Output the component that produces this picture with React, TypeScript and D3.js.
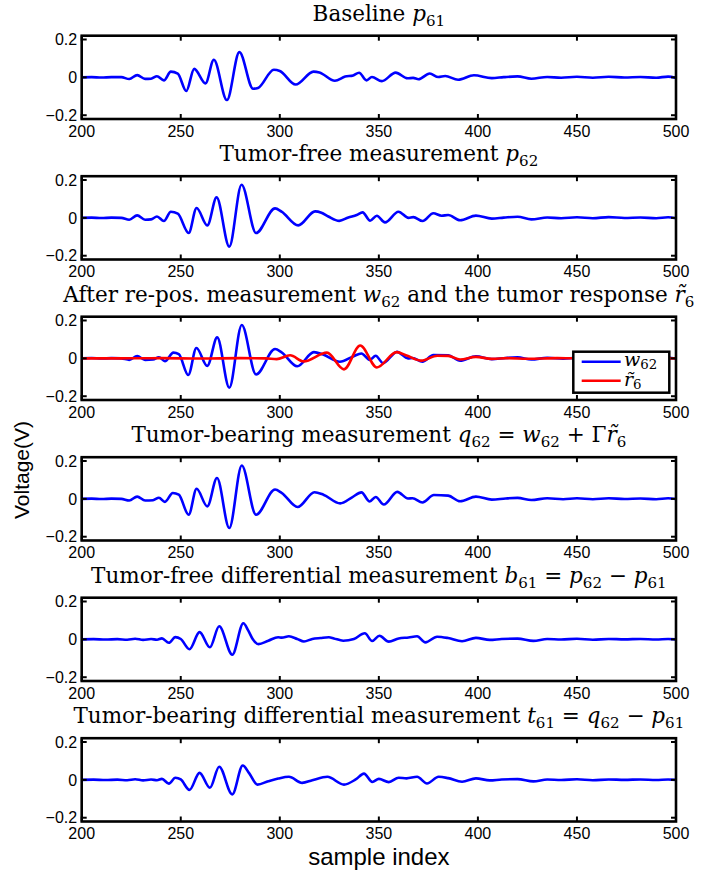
import React from 'react';
import * as d3 from 'd3';

type Pt = [number, number];

// ---------- data ----------
const xTicks = [200, 250, 300, 350, 400, 450, 500];
const yTicks = [-0.2, 0, 0.2];
const yTickLabels = ['\u22120.2', '0', '0.2'];

const baselineP61: Pt[] = [
  [200, 0], [205, 0.001], [210, -0.001], [215, 0.001], [220, 0.001], [224, -0.009], [228, 0.012], [232, -0.008],
  [235, -0.007], [238, 0.006], [241.5, -0.016], [245, 0.03], [248.5, 0.02], [252.8, -0.072], [256.8, 0.045],
  [262.5, -0.032], [266.7, 0.093], [273.3, -0.12], [279.6, 0.133], [286.5, -0.06], [289, -0.056], [297, 0.04],
  [300, 0.034], [308, -0.038], [317, 0.03], [320, 0.026], [327.8, -0.018], [333, 0.004], [337, 0.01], [340, 0.024],
  [343.8, -0.016], [346.5, 0.002], [351.5, -0.02], [358.5, 0.025], [364.5, -0.005], [367.3, -0.003], [370, -0.01],
  [375.7, 0.02], [380, 0.002], [383.5, 0.007], [390, -0.013], [398, 0.011], [407, -0.004], [413, 0.001], [420, 0.005],
  [427, -0.007], [435, 0.002], [442, -0.002], [450, 0.003], [458, -0.002], [466, 0.003], [474, -0.001], [482, 0.002],
  [490, -0.002], [496, 0.004], [500, -0.003],
];

const tumorFreeP62: Pt[] = [
  [200, 0], [205, 0.001], [210, -0.001], [215, 0.001], [220, 0], [224, -0.01], [228, 0.013], [232, -0.01],
  [235, -0.008], [238, 0.007], [241.5, -0.017], [245, 0.032], [248.5, 0.022], [254, -0.08], [258, 0.052],
  [263.4, -0.04], [268.1, 0.108], [274.5, -0.152], [280.7, 0.175], [288, -0.08], [297.6, 0.05], [300.9, 0.033],
  [309.3, -0.04], [317.8, 0.034], [321, 0.027], [324.5, 0.007], [330, -0.016], [334.6, 0.002], [338.8, 0.015],
  [341.8, 0.029], [345.6, -0.015], [349, 0.011], [353.1, -0.024], [359.9, 0.032], [365, 0], [367.4, 0.004],
  [372.1, -0.017], [377.5, 0.024], [381.7, 0.011], [385, 0.015], [391, -0.013], [399, 0.012], [407, -0.004],
  [413, 0.001], [420, 0.006], [427, -0.008], [435, 0.002], [442, -0.002], [450, 0.003], [458, -0.002], [466, 0.004],
  [474, -0.001], [482, 0.002], [490, -0.002], [496, 0.003], [500, -0.002],
];

const repositionedW62: Pt[] = [
  [200, 0], [205, 0.002], [210, -0.001], [215, 0.001], [220, 0], [224, -0.008], [228, 0.012], [232, -0.008],
  [236, -0.006], [239, 0.006], [242, -0.015], [246.3, 0.03], [249, 0.022], [253.8, -0.088], [257.9, 0.055],
  [263.4, -0.04], [268.4, 0.111], [274.5, -0.155], [280.8, 0.176], [288, -0.085], [297.6, 0.049], [300.9, 0.032],
  [308.8, -0.042], [317.2, 0.033], [321.9, 0.02], [330.3, -0.018], [337, 0.01], [341.2, 0.026], [345.4, -0.008],
  [348.4, 0.014], [352.1, -0.025], [359.2, 0.034], [364.7, 0], [367, 0.002], [372, -0.018], [377.5, 0.018],
  [385, 0.016], [391, -0.012], [399, 0.011], [407, -0.004], [414, 0.002], [420, 0.005], [427, -0.006], [435, 0.003],
  [443, -0.002], [450, 0.003], [458, -0.002], [466, 0.003], [474, -0.001], [482, 0.002], [490, -0.002], [496, 0.003],
  [500, -0.001],
];

const tumorResponseR6: Pt[] = [
  [200, 0], [220, 0], [240, 0.001], [260, -0.001], [280, 0.001], [293, 0], [298.4, -0.004], [305.2, 0.016],
  [312, -0.016], [323.8, 0.03], [332.4, -0.058], [340.6, 0.068], [349, -0.048], [359, 0.033], [364, 0.015],
  [371.5, -0.012], [379.5, 0.014], [385, 0.013], [391, -0.006], [399, 0.008], [407, -0.003], [415, 0.001],
  [425, -0.002], [440, 0.001], [460, 0], [480, 0.001], [500, 0],
];

const tumorBearingQ62: Pt[] = [
  [200, 0], [205, 0.001], [210, -0.001], [215, 0.001], [220, 0], [224, -0.009], [228, 0.012], [232, -0.009],
  [236, -0.007], [239, 0.006], [242, -0.016], [246, 0.031], [249, 0.022], [254, -0.084], [258, 0.053],
  [263.4, -0.04], [268.3, 0.11], [274.5, -0.154], [280.8, 0.176], [288, -0.084], [297.6, 0.049], [300.9, 0.032],
  [309, -0.043], [317.5, 0.035], [322, 0.022], [330.5, -0.024], [336.5, 0.008], [341.2, 0.034], [345.4, -0.014],
  [348.4, 0.01], [352.5, -0.03], [359.3, 0.037], [364.7, 0.002], [367, 0.003], [372, -0.019], [377.8, 0.02],
  [385, 0.017], [391, -0.013], [399, 0.012], [407, -0.004], [414, 0.002], [420, 0.005], [427, -0.006], [435, 0.003],
  [443, -0.002], [450, 0.003], [458, -0.002], [466, 0.003], [474, -0.001], [482, 0.002], [490, -0.002], [496, 0.003],
  [500, -0.001],
];

const differentialB61: Pt[] = [
  [200, 0], [206, 0.001], [212, -0.001], [218, 0.001], [223, -0.002], [227, 0.003], [231, -0.003], [235, 0.002],
  [238, -0.002], [240.5, 0.005], [244, -0.018], [247.3, 0.012], [250, 0.002], [254.4, -0.052], [259.5, 0.038],
  [264.7, -0.042], [269.4, 0.069], [276, -0.081], [281.6, 0.085], [284.1, 0.046], [286.3, 0.002], [289.2, -0.025],
  [294.2, -0.007], [299.2, 0.011], [301, 0.009], [304.6, 0.016], [308.8, 0.002], [312.2, -0.011], [316.4, 0.002],
  [320.6, 0.007], [324.8, 0.011], [327.3, 0.005], [332, -0.007], [337.4, 0.002], [342.9, 0.032], [346.6, -0.009],
  [350.3, 0.019], [355, -0.012], [360, 0.005], [365, 0.01], [369.3, 0.016], [373.5, -0.016], [379.4, 0.014],
  [385, 0.007], [392, -0.01], [399, 0.008], [406, -0.003], [412, 0.002], [420, 0.004], [428, -0.008], [435, 0.002],
  [442, -0.001], [450, 0.003], [458, -0.002], [466, 0.002], [474, 0], [482, 0.002], [490, -0.001], [496, 0.002],
  [500, 0],
];

const differentialT61: Pt[] = [
  [200, 0], [206, 0.001], [212, -0.001], [218, 0.001], [223, -0.002], [227, 0.003], [231, -0.003], [235, 0.002],
  [238, -0.002], [240.5, 0.005], [244, -0.02], [247.3, 0.011], [250, 0.002], [254.4, -0.053], [259.5, 0.037],
  [264.7, -0.042], [269.4, 0.069], [276, -0.077], [281.3, 0.076], [284.6, 0.034], [288.7, -0.025], [294.2, -0.007],
  [299.2, 0.007], [304.6, 0.016], [311.3, -0.016], [316.4, -0.002], [324, 0.016], [332.4, -0.025], [338.3, 0.002],
  [342.5, 0.033], [346.7, -0.011], [350, 0.005], [355, -0.012], [360, 0.011], [364, 0.008], [369.3, 0.016],
  [374.3, -0.019], [380.2, 0.016], [385, 0.009], [392, -0.01], [399, 0.008], [406, -0.003], [412, 0.002],
  [420, 0.004], [428, -0.008], [435, 0.002], [442, -0.001], [450, 0.003], [458, -0.002], [466, 0.002], [474, 0],
  [482, 0.002], [490, -0.001], [496, 0.002], [500, 0],
];

type Seg = { t: string; it?: boolean; sub?: boolean };

const title1: Seg[] = [{ t: 'Baseline ' }, { t: 'p', it: true }, { t: '61', sub: true }];
const title2: Seg[] = [{ t: 'Tumor-free measurement ' }, { t: 'p', it: true }, { t: '62', sub: true }];
const title3: Seg[] = [
  { t: 'After re-pos. measurement ' }, { t: 'w', it: true }, { t: '62', sub: true },
  { t: ' and the tumor response ' }, { t: 'r\u0303', it: true }, { t: '6', sub: true },
];
const title4: Seg[] = [
  { t: 'Tumor-bearing measurement ' }, { t: 'q', it: true }, { t: '62', sub: true }, { t: ' = ' },
  { t: 'w', it: true }, { t: '62', sub: true }, { t: ' + \u0393' }, { t: 'r\u0303', it: true }, { t: '6', sub: true },
];
const title5: Seg[] = [
  { t: 'Tumor-free differential measurement ' }, { t: 'b', it: true }, { t: '61', sub: true }, { t: ' = ' },
  { t: 'p', it: true }, { t: '62', sub: true }, { t: ' \u2212 ' }, { t: 'p', it: true }, { t: '61', sub: true },
];
const title6: Seg[] = [
  { t: 'Tumor-bearing differential measurement ' }, { t: 't', it: true }, { t: '61', sub: true }, { t: ' = ' },
  { t: 'q', it: true }, { t: '62', sub: true }, { t: ' \u2212 ' }, { t: 'p', it: true }, { t: '61', sub: true },
];

const legendW: Seg[] = [{ t: 'w', it: true }, { t: '62', sub: true }];
const legendR: Seg[] = [{ t: 'r\u0303', it: true }, { t: '6', sub: true }];

const BLUE = '#0000ff';
const RED = '#ff0000';

const panels = [
  { title: title1, series: [{ data: baselineP61, color: BLUE }] },
  { title: title2, series: [{ data: tumorFreeP62, color: BLUE }] },
  { title: title3, series: [{ data: repositionedW62, color: BLUE }, { data: tumorResponseR6, color: RED }], legend: true },
  { title: title4, series: [{ data: tumorBearingQ62, color: BLUE }] },
  { title: title5, series: [{ data: differentialB61, color: BLUE }] },
  { title: title6, series: [{ data: differentialT61, color: BLUE }] },
];

// ---------- layout ----------
const W = 719;
const H = 872;
const LEFT = 81.7;
const RIGHT = 676;
const TOP0 = 35.7;
const STEP = 140.5;
const PH = 83.3;
const SERIF = "'DejaVu Serif', 'Liberation Serif', serif";
const SANS = "'Liberation Sans', Arial, sans-serif";

function MathText({ segs, x, y, size, anchor, subDy = 5 }: { segs: Seg[]; x: number; y: number; size: number; anchor: string; subDy?: number }) {
  let shifted = false;
  const parts: React.ReactNode[] = [];
  segs.forEach((s, i) => {
    let dy = 0;
    if (s.sub && !shifted) { dy = subDy; shifted = true; }
    else if (!s.sub && shifted) { dy = -subDy; shifted = false; }
    parts.push(
      <tspan key={i} dy={dy || undefined} fontStyle={s.it ? 'italic' : 'normal'} fontSize={s.sub ? size * 0.7 : size}>
        {s.t}
      </tspan>
    );
  });
  return (
    <text x={x} y={y} textAnchor={anchor as any} fontFamily={SERIF} fontSize={size} fill="#000" style={{ whiteSpace: 'pre' }}>
      {parts}
    </text>
  );
}

export default function App() {
  const x = d3.scaleLinear().domain([200, 500]).range([LEFT, RIGHT]);
  const cx = (LEFT + RIGHT) / 2;
  return (
    <svg width={W} height={H} style={{ position: 'absolute', left: 0, top: 0, background: '#fff' }}>
      <rect x={0} y={0} width={W} height={H} fill="#fff" />
      {panels.map((p, pi) => {
        const top = TOP0 + pi * STEP;
        const y = d3.scaleLinear().domain([-0.22, 0.22]).range([top + PH, top]);
        const line = d3.line<Pt>().x(d => x(d[0])).y(d => y(d[1])).curve(d3.curveMonotoneX);
        const clipId = `clip${pi}`;
        return (
          <g key={pi}>
            <clipPath id={clipId}>
              <rect x={LEFT} y={top} width={RIGHT - LEFT} height={PH} />
            </clipPath>
            <MathText segs={p.title} x={cx} y={top - 15} size={21.5} anchor="middle" />
            <g clipPath={`url(#${clipId})`}>
              {p.series.map((s, si) => (
                <path key={si} d={line(s.data) || ''} fill="none" stroke={s.color} strokeWidth={2.6} strokeLinejoin="round" strokeLinecap="round" />
              ))}
            </g>
            {xTicks.map(t => (
              <g key={'xt' + t}>
                <line x1={x(t)} x2={x(t)} y1={top + PH} y2={top + PH - 5} stroke="#000" strokeWidth={2} />
                <line x1={x(t)} x2={x(t)} y1={top} y2={top + 5} stroke="#000" strokeWidth={2} />
                <text x={x(t)} y={top + PH + 17.5} textAnchor="middle" fontFamily={SANS} fontSize={16}>{t}</text>
              </g>
            ))}
            {yTicks.map((t, ti) => (
              <g key={'yt' + t}>
                <line x1={LEFT} x2={LEFT + 5} y1={y(t)} y2={y(t)} stroke="#000" strokeWidth={2} />
                <line x1={RIGHT} x2={RIGHT - 5} y1={y(t)} y2={y(t)} stroke="#000" strokeWidth={2} />
                <text x={LEFT - 4.5} y={y(t)} dy="0.36em" textAnchor="end" fontFamily={SANS} fontSize={16}>{yTickLabels[ti]}</text>
              </g>
            ))}
            <rect x={LEFT} y={top} width={RIGHT - LEFT} height={PH} fill="none" stroke="#000" strokeWidth={2.6} />
            {p.legend && (
              <g>
                <rect x={573.3} y={top + 35} width={96} height={41} fill="#fff" stroke="#000" strokeWidth={2.5} />
                <line x1={581.7} x2={620.7} y1={top + 45} y2={top + 45} stroke={BLUE} strokeWidth={2.6} />
                <line x1={581.7} x2={620.7} y1={top + 64} y2={top + 64} stroke={RED} strokeWidth={2.6} />
                <MathText segs={legendW} x={624} y={top + 49} size={19} anchor="start" subDy={3} />
                <MathText segs={legendR} x={624} y={top + 69} size={19} anchor="start" subDy={3} />
              </g>
            )}
          </g>
        );
      })}
      <text x={22} y={470} transform="rotate(-90 22 470)" dy="0.35em" textAnchor="middle" fontFamily={SANS} fontSize={21}>Voltage(V)</text>
      <text x={cx} y={865} textAnchor="middle" fontFamily={SANS} fontSize={24}>sample index</text>
    </svg>
  );
}
